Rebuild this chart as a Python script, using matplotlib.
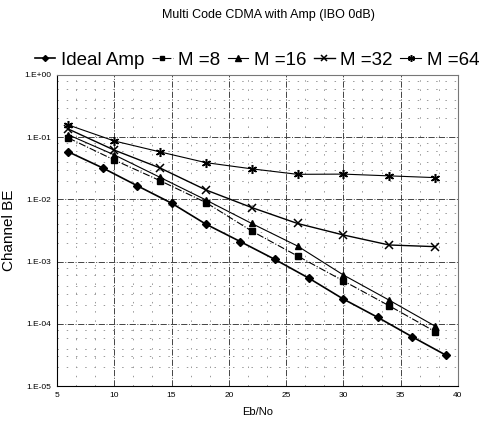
#!/usr/bin/env python3

import matplotlib.pyplot as plt
plt.switch_backend('agg')
from matplotlib.ticker import FixedLocator, LogLocator, FuncFormatter, NullFormatter
import numpy as np

plt.rcParams['font.family'] = ['Liberation Sans', 'DejaVu Sans']

# Ideal amplifier curve, every 3 dB
ebno_ideal = [6, 9, 12, 15, 18, 21, 24, 27, 30, 33, 36, 39]
ber_ideal = [0.058, 0.032, 0.0166, 0.0087, 0.0040, 0.0021, 0.00109,
             0.00054, 0.00025, 0.000127, 6.2e-5, 3.1e-5]

# multi code curves, every 4 dB
ebno = [6, 10, 14, 18, 22, 26, 30, 34, 38]
ber_m8 = [0.097, 0.043, 0.020, 0.0089, 0.0031, 0.00123, 0.00049, 0.000195, 7.5e-5]
ber_m16 = [0.109, 0.052, 0.0226, 0.0098, 0.0041, 0.00178, 0.00061, 0.00024, 9.2e-5]
ber_m32 = [0.135, 0.062, 0.032, 0.0142, 0.0074, 0.0041, 0.00268, 0.00185, 0.00174]
ber_m64 = [0.157, 0.087, 0.058, 0.039, 0.031, 0.0253, 0.0255, 0.0239, 0.0224]

fig = plt.figure(figsize=(4.83, 4.30), dpi=100)
ax = fig.add_axes([0.118, 0.1023, 0.83, 0.7233])

ax.plot(ebno_ideal, ber_ideal, 'k-', lw=1.2, marker='D', ms=4, label='Ideal Amp')
ax.plot(ebno, ber_m8, color='k', ls='-.', lw=0.8, marker='s', ms=4.5, label='M =8')
ax.plot(ebno, ber_m16, color='k', ls='-', lw=0.8, marker='^', ms=5, label='M =16')
ax.plot(ebno, ber_m32, color='k', ls='-', lw=1.0, marker='x', ms=5.5, mew=1.1, label='M =32')
ax.plot(ebno, ber_m64, color='k', ls='-', lw=0.8, marker=(6, 2, 0), ms=6.5, mew=1.1,
        label='M =64')

ax.set_yscale('log')
ax.set_xlim(5, 40)
ax.set_ylim(1e-5, 1)
ax.xaxis.set_major_locator(FixedLocator(range(5, 41, 5)))
ax.xaxis.set_minor_locator(FixedLocator([x + d for x in range(5, 40, 5) for d in (5/3, 10/3)]))
ax.yaxis.set_major_locator(LogLocator(base=10))
ax.yaxis.set_minor_locator(LogLocator(base=10, subs=(2, 3, 4, 6, 8)))
ax.yaxis.set_minor_formatter(NullFormatter())
ax.yaxis.set_major_formatter(FuncFormatter(lambda v, p: '1.E%+03d' % int(round(np.log10(v)))))

ax.grid(which='major', color='#444444', ls='-.', lw=0.7)
ax.grid(which='minor', color='#999999', ls=(0, (1.5, 8)), lw=0.7)
ax.tick_params(which='both', length=0, labelsize=6, pad=4)
for s in ax.spines.values():
    s.set_color('#777777')
    s.set_linewidth(0.8)
ax.spines['left'].set_color('k')
ax.spines['bottom'].set_color('k')

ax.set_xlabel('Eb/No', fontsize=8, labelpad=6)
ax.set_ylabel('Channel BE', fontsize=11, labelpad=6)
fig.text(0.555, 0.965, 'Multi Code CDMA with Amp (IBO 0dB)', ha='center', va='center',
         fontsize=9)

leg = fig.legend(loc='center', bbox_to_anchor=(0.532, 0.86), ncol=5, frameon=False,
                 fontsize=13.5, handlelength=1.1, handletextpad=0.3, columnspacing=0.4,
                 markerscale=0.75, borderpad=0)

fig.savefig('out.png', dpi=100)
